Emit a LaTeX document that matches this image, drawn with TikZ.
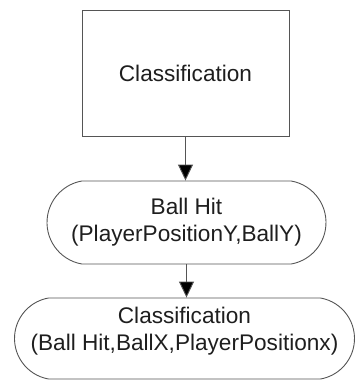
\documentclass[tikz,border=0pt]{standalone}
\usepackage{fontspec}
\setmainfont{Liberation Sans}
\usetikzlibrary{shapes.misc,arrows.meta}
\definecolor{linegray}{HTML}{555555}
\definecolor{textdark}{HTML}{1E1E1E}
\tikzset{
  every node/.style={text=textdark, font=\fontsize{22.6}{27}\selectfont, align=center, inner sep=0pt},
  boxrect/.style={draw=linegray, line width=0.9pt, rectangle, minimum width=207pt, minimum height=126pt},
  boxpill/.style={draw=linegray, line width=0.9pt, rounded rectangle, rounded rectangle arc length=160},
  flowarrow/.style={draw=linegray, line width=0.9pt, -{Triangle[width=15pt,length=16pt,fill=black]}}
}
\begin{document}
\begin{tikzpicture}[x=1pt,y=-1pt]
\useasboundingbox (0,0) rectangle (355,381);
\node[boxrect] (a) at (185.5,73) {Classification};
\node[boxpill, minimum width=279pt, minimum height=83pt] (b) at (186.5,222.5) {Ball Hit\\(PlayerPositionY,BallY)};
\node[boxpill, minimum width=340pt, minimum height=81pt] (c) at (184.5,338.5) {};
\node (ct) at (184.5,331) {Classification\\(Ball Hit,BallX,PlayerPositionx)};
\draw[flowarrow] (a.south) -- (a.south |- b.north);
\draw[flowarrow] (b.south) -- (b.south |- c.north);
\end{tikzpicture}
\end{document}
